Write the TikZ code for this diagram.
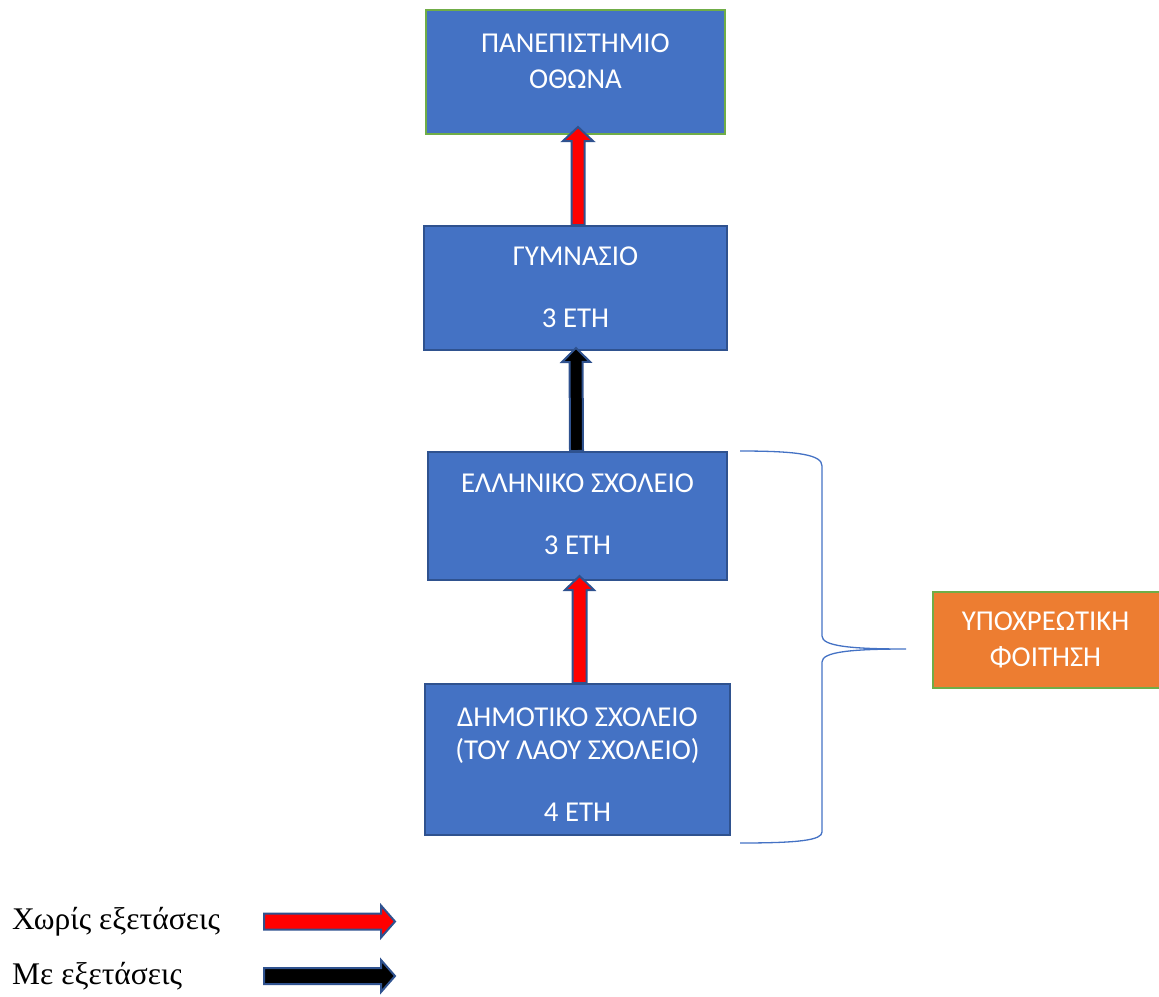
\documentclass[tikz,border=0pt]{standalone}
\usepackage{fontspec}
\setmainfont{Liberation Serif}
\newfontfamily\boxfont{Carlito}
\usetikzlibrary{calc}
\definecolor{boxblue}{HTML}{4472C4}
\definecolor{edgeblue}{HTML}{2F528F}
\definecolor{edgegreen}{HTML}{70AD47}
\definecolor{boxorange}{HTML}{ED7D31}
\definecolor{arrowred}{HTML}{FF0000}
\tikzset{
  stagebox/.style={draw=edgeblue, fill=boxblue, line width=2pt, inner sep=0pt},
  topbox/.style={stagebox, draw=edgegreen},
  notebox/.style={draw=edgegreen, fill=boxorange, line width=2pt, inner sep=0pt},
  boxtext/.style={text=white, align=center, inner sep=0pt,
    font=\boxfont\fontsize{28.8}{33}\selectfont},
  legendtext/.style={anchor=base west, inner sep=0pt,
    font=\fontsize{31.5}{36}\selectfont},
  arrowedge/.style={draw=edgeblue, line width=2pt, line join=miter},
  bracket/.style={draw=boxblue, line width=1.3pt},
}
% block arrow: #1 tail, #2 tip, #3 fill, #4 half shaft width, #5 half head width
\newcommand\blockarrow[5]{%
  \coordinate (ba-h) at ($(#2)!14pt!(#1)$);
  \draw[arrowedge, fill=#3]
    ($(#1)!#4!90:(#2)$) -- ($(ba-h)!#4!90:(#2)$) -- ($(ba-h)!#5!90:(#2)$)
    -- (#2) -- ($(ba-h)!#5!-90:(#2)$) -- ($(ba-h)!#4!-90:(#2)$)
    -- ($(#1)!#4!-90:(#2)$) -- cycle;}
\begin{document}
\begin{tikzpicture}[x=1pt, y=-1pt]
\useasboundingbox (0,0) rectangle (1159,996);

% stages
\node[topbox, minimum width=299pt, minimum height=124pt] (uni) at (575.5,72) {};
\node[boxtext] (unitext) at (575.5,61) {ΠΑΝΕΠΙΣΤΗΜΙΟ\\[3pt]ΟΘΩΝΑ};

\node[stagebox, minimum width=303pt, minimum height=124pt] (gym) at (575.5,288) {};
\node[boxtext] (gymtext) at (575.5,287) {ΓΥΜΝΑΣΙΟ\\[29pt]3 ΕΤΗ};

\node[stagebox, minimum width=299pt, minimum height=128pt] (ell) at (577.5,516) {};
\node[boxtext] (elltext) at (577.5,514) {ΕΛΛΗΝΙΚΟ ΣΧΟΛΕΙΟ\\[29pt]3 ΕΤΗ};

\node[stagebox, minimum width=305pt, minimum height=151pt] (dim) at (577.5,759.5) {};
\node[boxtext] (dimtext) at (577.5,765) {ΔΗΜΟΤΙΚΟ ΣΧΟΛΕΙΟ\\(ΤΟΥ ΛΑΟΥ ΣΧΟΛΕΙΟ)\\[29pt]4 ΕΤΗ};

\node[notebox, minimum width=227pt, minimum height=96pt, anchor=west] (oblig) at (932,640) {};
\node[boxtext] (obligtext) at (1045.5,640) {ΥΠΟΧΡΕΩΤΙΚΗ\\[3pt]ΦΟΙΤΗΣΗ};

% connectors between stages
\coordinate (a1t) at ($(gym.north)+(2.5,0)$);
\coordinate (a1h) at ($(uni.south)+(2.5,-8)$);
\blockarrow{a1t}{a1h}{arrowred}{6.5pt}{15pt}
\coordinate (a2t) at ($(ell.north)+(-1,0)$);
\coordinate (a2h) at ($(gym.south)+(0.5,-3)$);
\blockarrow{a2t}{a2h}{black}{6.5pt}{14pt}
\coordinate (a3t) at ($(dim.north)+(2,0)$);
\coordinate (a3h) at ($(ell.south)+(2,-5)$);
\blockarrow{a3t}{a3h}{arrowred}{7pt}{14.5pt}

% brace over the compulsory stages
\coordinate (brtop) at (740,451);
\coordinate (brtip) at (906,649);
\coordinate (brbot) at (740,843);
\draw[bracket] (brtop) .. controls (800,451) and (822,455) .. (822,466)
  -- (822,636) .. controls (822,646) and (850,649) .. (brtip)
  .. controls (850,649) and (822,652) .. (822,662)
  -- (822,832) .. controls (822,840) and (800,843) .. (brbot);

% legend
\node[legendtext] (leg1) at (12,929) {Χωρίς εξετάσεις};
\node[legendtext] (leg2) at (12,984) {Με εξετάσεις};
\coordinate (l1a) at (264,921.5);
\coordinate (l1b) at (395,921.5);
\blockarrow{l1a}{l1b}{arrowred}{8pt}{16pt}
\coordinate (l2a) at (264,976);
\coordinate (l2b) at (395,976);
\blockarrow{l2a}{l2b}{black}{8pt}{16pt}
\end{tikzpicture}
\end{document}
